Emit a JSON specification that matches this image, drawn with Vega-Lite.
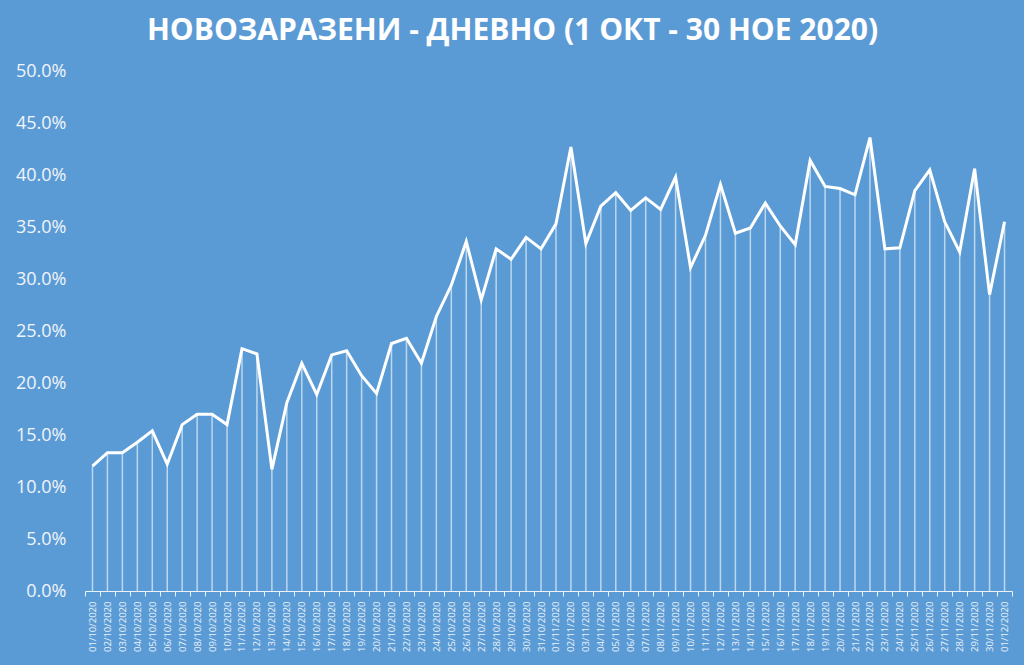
{
  "$schema": "https://vega.github.io/schema/vega-lite/v6.json",
  "width": 927,
  "height": 520,
  "autosize": {"type": "none"},
  "padding": {"left": 85, "top": 71, "right": 12, "bottom": 74},
  "background": "#5B9BD5",
  "config": {"view": {"stroke": null}, "font": "Open Sans"},
  "title": {
    "text": "НОВОЗАРАЗЕНИ  - ДНЕВНО (1 ОКТ - 30 НОЕ 2020)",
    "color": "white",
    "font": "Open Sans",
    "fontSize": 30,
    "fontWeight": "bold",
    "anchor": "middle",
    "dx": -36,
    "offset": 16
  },
  "data": {
    "values": [
      {"date": "01/10/2020", "v": 0.120},
      {"date": "02/10/2020", "v": 0.133},
      {"date": "03/10/2020", "v": 0.133},
      {"date": "04/10/2020", "v": 0.143},
      {"date": "05/10/2020", "v": 0.154},
      {"date": "06/10/2020", "v": 0.122},
      {"date": "07/10/2020", "v": 0.160},
      {"date": "08/10/2020", "v": 0.170},
      {"date": "09/10/2020", "v": 0.170},
      {"date": "10/10/2020", "v": 0.160},
      {"date": "11/10/2020", "v": 0.233},
      {"date": "12/10/2020", "v": 0.228},
      {"date": "13/10/2020", "v": 0.117},
      {"date": "14/10/2020", "v": 0.181},
      {"date": "15/10/2020", "v": 0.219},
      {"date": "16/10/2020", "v": 0.189},
      {"date": "17/10/2020", "v": 0.227},
      {"date": "18/10/2020", "v": 0.231},
      {"date": "19/10/2020", "v": 0.207},
      {"date": "20/10/2020", "v": 0.190},
      {"date": "21/10/2020", "v": 0.238},
      {"date": "22/10/2020", "v": 0.243},
      {"date": "23/10/2020", "v": 0.219},
      {"date": "24/10/2020", "v": 0.264},
      {"date": "25/10/2020", "v": 0.294},
      {"date": "26/10/2020", "v": 0.336},
      {"date": "27/10/2020", "v": 0.280},
      {"date": "28/10/2020", "v": 0.329},
      {"date": "29/10/2020", "v": 0.319},
      {"date": "30/10/2020", "v": 0.340},
      {"date": "31/10/2020", "v": 0.329},
      {"date": "01/11/2020", "v": 0.353},
      {"date": "02/11/2020", "v": 0.427},
      {"date": "03/11/2020", "v": 0.334},
      {"date": "04/11/2020", "v": 0.370},
      {"date": "05/11/2020", "v": 0.383},
      {"date": "06/11/2020", "v": 0.366},
      {"date": "07/11/2020", "v": 0.378},
      {"date": "08/11/2020", "v": 0.367},
      {"date": "09/11/2020", "v": 0.398},
      {"date": "10/11/2020", "v": 0.311},
      {"date": "11/11/2020", "v": 0.342},
      {"date": "12/11/2020", "v": 0.391},
      {"date": "13/11/2020", "v": 0.344},
      {"date": "14/11/2020", "v": 0.349},
      {"date": "15/11/2020", "v": 0.373},
      {"date": "16/11/2020", "v": 0.351},
      {"date": "17/11/2020", "v": 0.333},
      {"date": "18/11/2020", "v": 0.414},
      {"date": "19/11/2020", "v": 0.389},
      {"date": "20/11/2020", "v": 0.387},
      {"date": "21/11/2020", "v": 0.381},
      {"date": "22/11/2020", "v": 0.436},
      {"date": "23/11/2020", "v": 0.329},
      {"date": "24/11/2020", "v": 0.330},
      {"date": "25/11/2020", "v": 0.385},
      {"date": "26/11/2020", "v": 0.405},
      {"date": "27/11/2020", "v": 0.355},
      {"date": "28/11/2020", "v": 0.326},
      {"date": "29/11/2020", "v": 0.406},
      {"date": "30/11/2020", "v": 0.285},
      {"date": "01/12/2020", "v": 0.355}
    ]
  },
  "encoding": {
    "x": {
      "field": "date",
      "type": "ordinal",
      "sort": null,
      "scale": {"type": "band", "paddingInner": 0, "paddingOuter": 0},
      "axis": {
        "title": null,
        "labelAngle": -90,
        "labelFontSize": 9.5,
        "labelColor": "#eaf2fa",
        "labelPadding": 5,
        "domainColor": "#eaf2fa",
        "domainWidth": 1,
        "tickColor": "#eaf2fa",
        "tickSize": 5,
        "tickBand": "extent",
        "labelOverlap": false
      }
    },
    "y": {
      "field": "v",
      "type": "quantitative",
      "scale": {"domain": [0, 0.5], "nice": false},
      "axis": {
        "title": null,
        "format": ".1%",
        "values": [0, 0.05, 0.1, 0.15, 0.2, 0.25, 0.3, 0.35, 0.4, 0.45, 0.5],
        "labelFontSize": 18,
        "labelColor": "#f0f5fb",
        "labelPadding": 19,
        "domain": false,
        "ticks": false,
        "grid": false
      }
    }
  },
  "layer": [
    {
      "mark": {"type": "rule", "color": "white", "strokeWidth": 1.5, "opacity": 0.6},
      "encoding": {"y2": {"datum": 0}}
    },
    {
      "mark": {"type": "line", "color": "white", "strokeWidth": 3, "strokeJoin": "miter"}
    }
  ]
}
